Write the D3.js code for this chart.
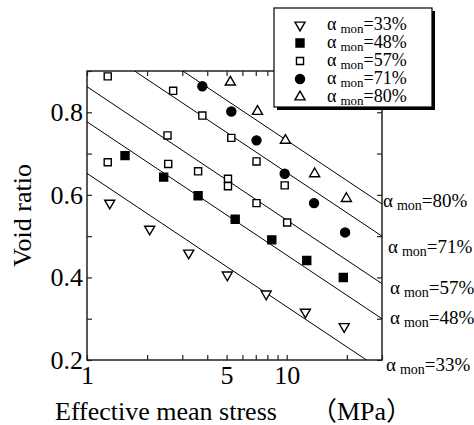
<!DOCTYPE html>
<html>
<head>
<meta charset="utf-8">
<script src="https://cdn.jsdelivr.net/npm/d3@7"></script>
<style>
  body { margin: 0; background: #fff; }
  svg { display: block; }
  text { font-family: "Liberation Serif", "Times New Roman", "Noto Sans CJK JP", serif; fill: #000; }
</style>
</head>
<body>
<script>
// series: effective mean stress (MPa) and void ratio
const series = ['33%', '48%', '57%', '71%', '80%'];

const p33 = [1.30, 2.06, 3.23, 5.04, 7.89, 12.4, 19.4];
const e33 = [0.580, 0.517, 0.459, 0.406, 0.360, 0.316, 0.281];

const p48 = [1.55, 2.42, 3.60, 5.52, 8.42, 12.6, 19.2];
const e48 = [0.695, 0.643, 0.598, 0.541, 0.491, 0.441, 0.400];

const p57 = [1.27, 2.70, 3.78, 5.28, 7.06, 9.77, 1.27, 2.53, 2.55, 3.60, 5.08, 5.08, 7.06, 10.05];
const e57 = [0.887, 0.852, 0.792, 0.738, 0.681, 0.623, 0.679, 0.744, 0.675, 0.657, 0.639, 0.621, 0.580, 0.533];

const p71 = [3.78, 5.28, 7.06, 9.77, 13.7, 19.6];
const e71 = [0.863, 0.802, 0.732, 0.651, 0.580, 0.509];

const p80 = [5.22, 7.14, 9.85, 13.8, 19.9];
const e80 = [0.873, 0.802, 0.732, 0.651, 0.591];

// fitted lines: void ratio at p = 1 MPa, common slope per log decade
const lineE1 = [0.652, 0.777, 0.862, 0.977, 1.055];
const lineSlope = 0.323;

const xTicks = [1, 2, 3, 4, 5, 6, 7, 8, 9, 10, 20, 30];
const xLabels = [1, 5, 10];
const yTicks = [0.2, 0.3, 0.4, 0.5, 0.6, 0.7, 0.8, 0.9];
const yLabels = [0.2, 0.4, 0.6, 0.8];

const width = 474, height = 425;
const margin = {top: 71, right: 92, bottom: 65, left: 87};
const w = width - margin.left - margin.right;
const h = height - margin.top - margin.bottom;

const svg = d3.select('body').append('svg')
  .attr('width', width)
  .attr('height', height);

const x = d3.scaleLog().domain([1, 30]).range([0, w]);
const y = d3.scaleLinear().domain([0.2, 0.9]).range([h, 0]);

const g = svg.append('g')
  .attr('transform', 'translate(' + margin.left + ',' + margin.top + ')');

// axes with inward ticks on all four sides
const fmtX = d => xLabels.includes(d) ? d : '';
const fmtY = d => yLabels.some(v => Math.abs(v - d) < 1e-6) ? d3.format('.1f')(d) : '';

g.append('g')
  .attr('transform', 'translate(0,' + h + ')')
  .call(d3.axisBottom(x).tickValues(xTicks).tickSize(-5).tickPadding(6).tickFormat(fmtX));
g.append('g')
  .call(d3.axisTop(x).tickValues(xTicks).tickSize(-5).tickFormat(''));
g.append('g')
  .call(d3.axisLeft(y).tickValues(yTicks).tickSize(-5).tickPadding(4).tickFormat(fmtY));
g.append('g')
  .attr('transform', 'translate(' + w + ',0)')
  .call(d3.axisRight(y).tickValues(yTicks).tickSize(-5).tickFormat(''));

g.selectAll('.domain').remove();
g.selectAll('.tick line').attr('stroke', '#222').attr('stroke-width', 1.2);
g.selectAll('.tick text')
  .style('font-size', '26px')
  .style('font-family', '"Liberation Serif", serif');

g.append('rect')
  .attr('width', w)
  .attr('height', h)
  .attr('fill', 'none')
  .attr('stroke', '#222')
  .attr('stroke-width', 1.5);

// fitted lines, clipped to the plot
svg.append('defs').append('clipPath').attr('id', 'plot-clip')
  .append('rect').attr('width', w).attr('height', h);

const lineAt = (e1, p) => e1 - lineSlope * Math.log10(p);

g.append('g')
  .attr('clip-path', 'url(#plot-clip)')
  .selectAll('line')
  .data(lineE1)
  .join('line')
  .attr('x1', x(1))
  .attr('y1', d => y(lineAt(d, 1)))
  .attr('x2', x(30))
  .attr('y2', d => y(lineAt(d, 30)))
  .attr('stroke', '#000')
  .attr('stroke-width', 1);

// marker styles per series
const markers = [
  {type: d3.symbolTriangle, size: 44, fill: '#fff', rotate: 180},
  {type: d3.symbolSquare, size: 64, fill: '#000', rotate: 0},
  {type: d3.symbolSquare, size: 50, fill: '#fff', rotate: 0},
  {type: d3.symbolCircle, size: 64, fill: '#000', rotate: 0},
  {type: d3.symbolTriangle, size: 44, fill: '#fff', rotate: 0}
];

const ps = [p33, p48, p57, p71, p80];
const es = [e33, e48, e57, e71, e80];

series.forEach((s, i) => {
  const pts = ps[i].map((p, j) => ({p: p, e: es[i][j]}));
  const m = markers[i];
  g.append('g')
    .selectAll('path')
    .data(pts)
    .join('path')
    .attr('d', d3.symbol().type(m.type).size(m.size))
    .attr('transform', d => 'translate(' + x(d.p) + ',' + y(d.e) + ') rotate(' + m.rotate + ')')
    .attr('fill', m.fill)
    .attr('stroke', '#000')
    .attr('stroke-width', 1.4);
});

// label helper: "α mon=xx%"
function alphaLabel(sel, s, big, small) {
  sel.append('tspan').style('font-size', big + 'px').text('α');
  sel.append('tspan').style('font-size', small + 'px').attr('dx', 4).attr('dy', 3).text('mon');
  sel.append('tspan').style('font-size', big + 'px').attr('dy', -3).text('=' + s);
}

// labels at the right end of each line
const labelNudge = [[4, 6], [8, 0], [8, 5], [6, 12], [1, -2]];
series.forEach((s, i) => {
  const ey = lineAt(lineE1[i], 30);
  const yy = Math.min(y(ey), h);
  const t = g.append('text')
    .attr('x', w + labelNudge[i][0])
    .attr('y', yy + labelNudge[i][1] + 5);
  alphaLabel(t, s, 19, 14);
});

// legend box with shadow
const legend = svg.append('g').attr('transform', 'translate(274,8)');
const lw = 158, lh = 99;
legend.append('rect')
  .attr('x', 3).attr('y', 3)
  .attr('width', lw).attr('height', lh)
  .attr('fill', '#000');
legend.append('rect')
  .attr('width', lw).attr('height', lh)
  .attr('fill', '#fff')
  .attr('stroke', '#000')
  .attr('stroke-width', 1.2);

series.forEach((s, i) => {
  const m = markers[i];
  const cy = 17 + i * 18;
  legend.append('path')
    .attr('d', d3.symbol().type(m.type).size(m.size))
    .attr('transform', 'translate(26,' + cy + ') rotate(' + m.rotate + ')')
    .attr('fill', m.fill)
    .attr('stroke', '#000')
    .attr('stroke-width', 1.4);
  const t = legend.append('text')
    .attr('x', 53)
    .attr('y', cy + 5);
  alphaLabel(t, s, 18, 13);
});

// axis titles
const xt = svg.append('text')
  .attr('x', 55)
  .attr('y', 420)
  .style('font-size', '26px');
xt.append('tspan').text('Effective mean stress');
xt.append('tspan').attr('dx', 34).text('（MPa）');

svg.append('text')
  .attr('transform', 'translate(31,' + (margin.top + h / 2) + ') rotate(-90)')
  .attr('text-anchor', 'middle')
  .style('font-size', '26px')
  .text('Void ratio');
</script>
</body>
</html>
